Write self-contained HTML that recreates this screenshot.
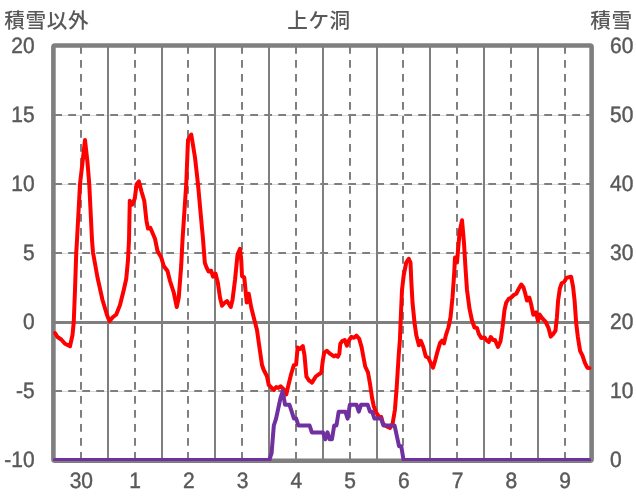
<!DOCTYPE html>
<html lang="ja">
<head>
<meta charset="utf-8">
<title>上ケ洞</title>
<style>
html,body{margin:0;padding:0;background:#fff;}
body{width:636px;height:501px;overflow:hidden;font-family:"Liberation Sans","Noto Sans CJK JP",sans-serif;}
svg{display:block;}
</style>
</head>
<body>
<svg width="636" height="501" viewBox="0 0 636 501">
<rect width="636" height="501" fill="#fff"/>
<g stroke="#7f7f7f" stroke-width="2" fill="none">
<line x1="54.25" y1="115.5" x2="591.75" y2="115.5" stroke="#d9d9d9" stroke-width="1"/>
<line x1="54.25" y1="184.5" x2="591.75" y2="184.5" stroke="#d9d9d9" stroke-width="1"/>
<line x1="54.25" y1="253.5" x2="591.75" y2="253.5" stroke="#d9d9d9" stroke-width="1"/>
<line x1="54.25" y1="391.5" x2="591.75" y2="391.5" stroke="#d9d9d9" stroke-width="1"/>
<line x1="81" y1="46" x2="81" y2="460" stroke-dasharray="7.8 6.2"/>
<line x1="108" y1="46" x2="108" y2="460"/>
<line x1="135" y1="46" x2="135" y2="460" stroke-dasharray="7.8 6.2"/>
<line x1="162" y1="46" x2="162" y2="460"/>
<line x1="188" y1="46" x2="188" y2="460" stroke-dasharray="7.8 6.2"/>
<line x1="215" y1="46" x2="215" y2="460"/>
<line x1="242" y1="46" x2="242" y2="460" stroke-dasharray="7.8 6.2"/>
<line x1="269" y1="46" x2="269" y2="460"/>
<line x1="296" y1="46" x2="296" y2="460" stroke-dasharray="7.8 6.2"/>
<line x1="323" y1="46" x2="323" y2="460"/>
<line x1="350" y1="46" x2="350" y2="460" stroke-dasharray="7.8 6.2"/>
<line x1="377" y1="46" x2="377" y2="460"/>
<line x1="403" y1="46" x2="403" y2="460" stroke-dasharray="7.8 6.2"/>
<line x1="430" y1="46" x2="430" y2="460"/>
<line x1="457" y1="46" x2="457" y2="460" stroke-dasharray="7.8 6.2"/>
<line x1="484" y1="46" x2="484" y2="460"/>
<line x1="511" y1="46" x2="511" y2="460" stroke-dasharray="7.8 6.2"/>
<line x1="538" y1="46" x2="538" y2="460"/>
<line x1="565" y1="46" x2="565" y2="460" stroke-dasharray="7.8 6.2"/>
<line x1="54.25" y1="115" x2="591.75" y2="115" stroke-dasharray="7.8 6.2"/>
<line x1="54.25" y1="184" x2="591.75" y2="184" stroke-dasharray="7.8 6.2"/>
<line x1="54.25" y1="253" x2="591.75" y2="253" stroke-dasharray="7.8 6.2"/>
<line x1="54.25" y1="322.5" x2="591.75" y2="322.5" stroke-width="3"/>
<line x1="54.25" y1="391" x2="591.75" y2="391" stroke-dasharray="7.8 6.2"/>
</g>
<rect x="53.4" y="45.5" width="538.2" height="415.2" rx="1.5" fill="none" stroke="#7f7f7f" stroke-width="4.6"/>
<clipPath id="pc"><rect x="53.2" y="44" width="540" height="417"/></clipPath>
<g clip-path="url(#pc)">
<polyline points="55,333 57.5,337 61.25,339.5 65,343.75 70,346.25 72.5,335 73.75,322 75,290 76.25,252.5 77,240 80,184 82.5,162.5 85,140 87.5,162.5 89.25,184 92,240 93,252.5 97.5,277.5 102.5,300 107,315 109.5,321.25 112.5,317.5 116.25,314.5 120,305 123.75,290 126.25,278.75 128,260 129,240 129.8,200.8 132.4,204.6 134.8,198.5 136.6,184.2 138.9,181.4 141.5,191.5 144.3,201 146.4,220.3 148,228.5 150.3,227.8 155,238.75 157.5,251 161.25,257.5 163.75,266 167.5,271 170,281 173.75,292.5 176.75,307 178.75,297.5 181.25,265 182.5,240 186.25,184 188,140 191.25,134.5 195,157.5 198,184.25 201.7,225 202.9,237.6 204.8,262.7 206.4,267.1 208.6,271.5 211.1,270.7 213,276.6 215.5,273.6 217.8,282.5 220,297.5 222,305.75 225,302.5 227,301 228.75,303.75 230.75,307 232.5,300 235,280 237.5,255 240,248.75 241.25,260 242,276 244.25,277.5 246.75,302.5 248.75,293.75 251.25,307.5 253.75,317.5 257,330 258.75,342.5 262,365 263.75,370 267,376.25 268.75,385 271.25,387.5 273.75,390 276.25,387 278.25,388 280.5,386.25 283.75,389.5 286.25,394.5 288.75,383.75 291.25,373.75 293.8,365.2 296.1,364.6 297.6,347.6 300.1,348.9 302.8,346 304.5,355.2 306.4,376.5 308.9,380.3 312,382.6 315.8,376.5 319,374.2 321.3,372.8 322.7,361.4 324.2,352.6 326.8,350.8 330.3,353.9 334,356.4 335.9,355.2 337.8,356.7 339.3,353.9 340.3,343.8 342.2,341.1 344.7,340 346.9,345.7 349.2,340 351.4,336.9 353.9,337.8 356.4,335.7 359.2,338.8 361.7,347.6 363.5,357.5 365.2,366.5 368,372.5 370,383.75 372,397.5 373.75,406.25 376.25,412.5 379.5,417.5 381.25,417 383,423.75 386.25,426.25 390,428 392.6,423.75 394.9,410 396.7,387.5 398.7,355 399.9,340 400.9,315 402,290 403.75,275 406.25,262.5 408.75,258.75 410.5,262.5 411.25,280 412.5,302.5 414.5,322.5 416.25,335 418.9,345.2 420.8,340.8 423.3,347 425.8,356.5 428.3,357.7 430.6,362.8 433,367.6 435.2,360.3 437.7,350.8 440.2,342.6 442.1,340.7 444,343.3 445.9,335.1 448.4,327.5 450.5,317.5 452.5,297.5 454.25,272.5 455,257.5 457,262.5 459.6,232 462,220.3 464,243 465.3,265 467,290 469.5,308.75 472,320.5 474.5,327.5 477,328 478.75,333.75 481.25,338 484.5,337.5 486.25,340 488.75,342 490.75,337 493,340 495,340 498,347 500.5,341.25 502.5,327.5 504.5,310 506.25,302.5 508.75,298.75 511.25,297.5 513.75,295 516.25,293.75 518.75,288.75 521.25,284.5 523.5,287.5 525.3,293.75 527,300.5 529.3,297.5 531.2,304.6 533.3,314.7 536,312.3 538,321.1 539.5,314.5 541.9,318 545.5,321.7 548.6,328.2 550.7,336.6 553.1,334.2 555.5,330.6 556.9,317.4 558.1,300.7 559.8,288.7 561.7,283.2 564.1,282 566.5,277.9 568.9,277.2 571.1,276.7 573,286.3 574.6,300.7 576.1,322.2 577.8,336.6 580.1,350.9 582.5,355.7 584.9,362.9 587.3,367.7 589.5,368.1" fill="none" stroke="#ff0000" stroke-width="4" stroke-linejoin="round" stroke-linecap="round"/>
<polyline points="54.7,460 269.36,460 271.59,453.1 273.83,425.5 276.06,418.6 278.3,408.25 280.54,397.9 282.77,391 285.01,404.8 289.48,404.8 291.72,411.7 293.95,418.6 296.19,418.6 298.42,425.5 309.6,425.5 311.84,432.4 323.02,432.4 325.26,439.3 327.49,432.4 329.73,439.3 331.96,439.3 334.2,425.5 336.44,425.5 338.67,411.7 345.38,411.7 347.62,418.6 349.85,404.8 356.56,404.8 358.8,411.7 361.03,404.8 367.74,404.8 369.98,411.7 372.21,411.7 374.45,418.6 381.16,418.6 383.39,425.5 394.57,425.5 396.81,435.85 399.04,446.2 401.28,446.2 403.52,460 589.1,460" fill="none" stroke="#7030a0" stroke-width="4" stroke-linejoin="round" stroke-linecap="round"/>
</g>
<g font-family="'Liberation Sans', 'Noto Sans CJK JP', sans-serif" font-size="20.6" font-weight="500" letter-spacing="0.6" fill="#595959">
<text x="4.3" y="27.9">積雪以外</text>
<text x="319" y="27.9" text-anchor="middle">上ケ洞</text>
<text x="632.6" y="27.9" text-anchor="end">積雪</text>
</g>
<g font-family="'Liberation Sans', 'Noto Sans CJK JP', sans-serif" font-size="22.2" fill="#595959" stroke="#595959" stroke-width="0.45" text-rendering="geometricPrecision" transform="scale(0.945,1)">
<text x="36.61" y="52.6" text-anchor="end">20</text>
<text x="36.61" y="121.6" text-anchor="end">15</text>
<text x="36.61" y="190.6" text-anchor="end">10</text>
<text x="36.61" y="259.6" text-anchor="end">5</text>
<text x="36.61" y="328.6" text-anchor="end">0</text>
<text x="36.61" y="397.6" text-anchor="end">-5</text>
<text x="36.61" y="466.6" text-anchor="end">-10</text>
<text x="645.61" y="52.6">60</text>
<text x="645.61" y="121.6">50</text>
<text x="645.61" y="190.6">40</text>
<text x="645.61" y="259.6">30</text>
<text x="645.61" y="328.6">20</text>
<text x="645.61" y="397.6">10</text>
<text x="645.61" y="466.6">0</text>
<text x="86.06" y="487.5" text-anchor="middle">30</text>
<text x="142.94" y="487.5" text-anchor="middle">1</text>
<text x="199.81" y="487.5" text-anchor="middle">2</text>
<text x="256.69" y="487.5" text-anchor="middle">3</text>
<text x="313.57" y="487.5" text-anchor="middle">4</text>
<text x="370.45" y="487.5" text-anchor="middle">5</text>
<text x="427.33" y="487.5" text-anchor="middle">6</text>
<text x="484.21" y="487.5" text-anchor="middle">7</text>
<text x="541.08" y="487.5" text-anchor="middle">8</text>
<text x="597.96" y="487.5" text-anchor="middle">9</text>
</g>
</svg>
</body>
</html>
